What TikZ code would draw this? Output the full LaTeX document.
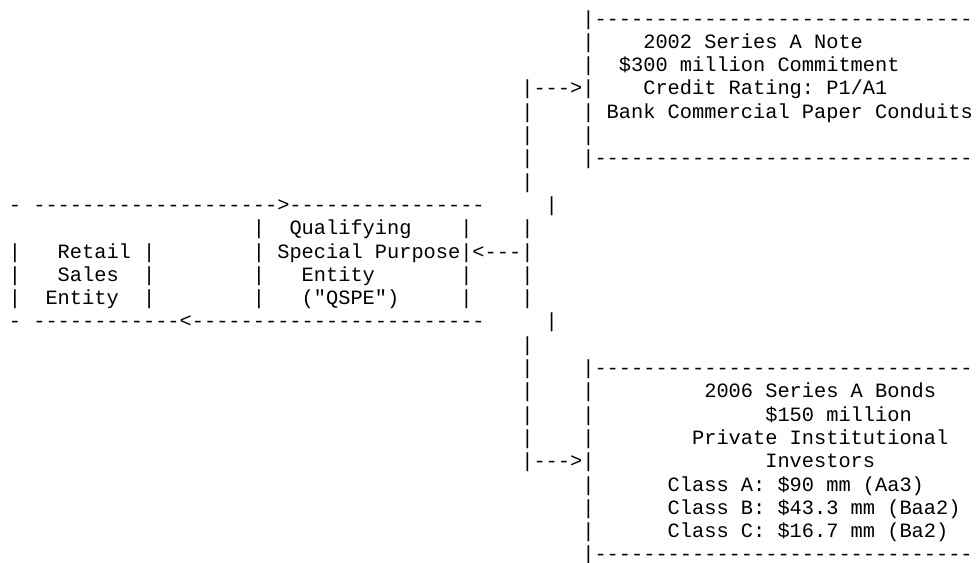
\documentclass[tikz,border=0pt]{standalone}
\usepackage{fontspec}
\setmonofont{Liberation Mono}
\frenchspacing
\tikzset{
  asc/.style={font=\ttfamily\fontsize{20.33pt}{23.3pt}\selectfont,
    anchor=base west, inner sep=0pt, outer sep=0pt}
}
\begin{document}
\begin{tikzpicture}[x=12.2pt,y=-23.3pt]
    \useasboundingbox (-0.73,-1.073) rectangle (79.43,23.05);
      % upper box: the 2002 note
      \node[asc] (ntop) at (47,0) {|-------------------------------};
      \node[asc] (nl1) at (47,1) {|};
      \node[asc] (note) at (52,1) {2002 Series A Note};
      \node[asc] (nl2) at (47,2) {|};
      \node[asc] (commit) at (50,2) {\$300 million Commitment};
      \node[asc] (toup) at (42,3) {|--->|};
      \node[asc] (rating) at (52,3) {Credit Rating: P1/A1};
      \node[asc] (v4) at (42,4) {|};
      \node[asc] (nl4) at (47,4) {|};
      \node[asc] (conduits) at (49,4) {Bank Commercial Paper Conduits};
      \node[asc] (v5) at (42,5) {|};
      \node[asc] (nl5) at (47,5) {|};
      \node[asc] (v6) at (42,6) {|};
      \node[asc] (nbot) at (47,6) {|-------------------------------};
      \node[asc] (v7) at (42,7) {|};
      % retail entity and the QSPE
      \node[asc] (ftop) at (0,8) {-};
      \node[asc] (flowout) at (2,8) {-------------------->----------------};
      \node[asc] (k8) at (44,8) {|};
      \node[asc] (ql9) at (20,9) {|};
      \node[asc] (qual) at (23,9) {Qualifying};
      \node[asc] (qr9) at (37,9) {|};
      \node[asc] (v9) at (42,9) {|};
      \node[asc] (rl10) at (0,10) {|};
      \node[asc] (retail) at (4,10) {Retail};
      \node[asc] (rr10) at (11,10) {|};
      \node[asc] (ql10) at (20,10) {|};
      \node[asc] (special) at (22,10) {Special Purpose|<---|};
      \node[asc] (rl11) at (0,11) {|};
      \node[asc] (sales) at (4,11) {Sales};
      \node[asc] (rr11) at (11,11) {|};
      \node[asc] (ql11) at (20,11) {|};
      \node[asc] (entity) at (24,11) {Entity};
      \node[asc] (qr11) at (37,11) {|};
      \node[asc] (v11) at (42,11) {|};
      \node[asc] (rl12) at (0,12) {|};
      \node[asc] (rentity) at (3,12) {Entity};
      \node[asc] (rr12) at (11,12) {|};
      \node[asc] (ql12) at (20,12) {|};
      \node[asc] (qspe) at (24,12) {("QSPE")};
      \node[asc] (qr12) at (37,12) {|};
      \node[asc] (v12) at (42,12) {|};
      \node[asc] (fbot) at (0,13) {-};
      \node[asc] (flowback) at (2,13) {------------<------------------------};
      \node[asc] (k13) at (44,13) {|};
      % lower box: the 2006 bonds
      \node[asc] (v14) at (42,14) {|};
      \node[asc] (v15) at (42,15) {|};
      \node[asc] (btop) at (47,15) {|-------------------------------};
      \node[asc] (v16) at (42,16) {|};
      \node[asc] (bl16) at (47,16) {|};
      \node[asc] (bonds) at (57,16) {2006 Series A Bonds};
      \node[asc] (v17) at (42,17) {|};
      \node[asc] (bl17) at (47,17) {|};
      \node[asc] (amount) at (62,17) {\$150 million};
      \node[asc] (v18) at (42,18) {|};
      \node[asc] (bl18) at (47,18) {|};
      \node[asc] (private) at (56,18) {Private Institutional};
      \node[asc] (todown) at (42,19) {|--->|};
      \node[asc] (investors) at (62,19) {Investors};
      \node[asc] (bl20) at (47,20) {|};
      \node[asc] (classa) at (54,20) {Class A: \$90 mm (Aa3)};
      \node[asc] (bl21) at (47,21) {|};
      \node[asc] (classb) at (54,21) {Class B: \$43.3 mm (Baa2)};
      \node[asc] (bl22) at (47,22) {|};
      \node[asc] (classc) at (54,22) {Class C: \$16.7 mm (Ba2)};
      \node[asc] (bbot) at (47,23) {|-------------------------------};
    \end{tikzpicture}
\end{document}
